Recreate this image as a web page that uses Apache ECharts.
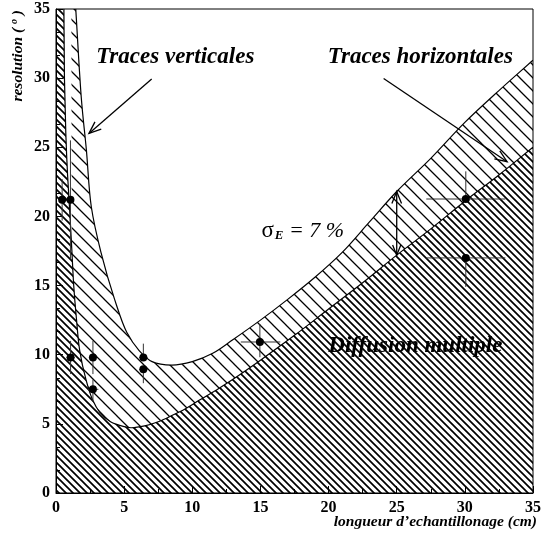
<!DOCTYPE html>
<html>
<head>
<meta charset="utf-8">
<script src="https://cdn.jsdelivr.net/npm/echarts@6/dist/echarts.min.js"></script>
<style>
html, body { margin: 0; padding: 0; background: #fff; }
#chart { width: 544px; height: 535px; }
</style>
</head>
<body>
<div id="chart"></div>
<script>
// Upper edge of the multiple-scattering region (steep part near the axis, then the valley)
const scatterX = [0.58, 0.62, 0.72, 0.85, 1.0, 1.16, 1.3, 1.5, 1.74, 2.2, 2.7, 3.2, 4.0, 5.0, 5.5, 6.5, 7.5, 8.5, 9.5, 10.5, 12.0, 13.4, 15.0, 17.5, 20.0, 22.5, 25.0, 27.5, 30.0, 32.5, 35.0];
const scatterY = [35.0, 30.0, 26.0, 23.0, 20.5, 17.6, 15.0, 12.6, 10.3, 8.2, 6.7, 5.85, 5.15, 4.8, 4.72, 4.85, 5.15, 5.6, 6.1, 6.7, 7.6, 8.5, 9.6, 11.4, 13.3, 15.2, 17.2, 19.1, 21.1, 23.0, 25.0];

// Outer edge of the track-resolution band
const bandX = [1.45, 1.87, 2.23, 2.59, 3.3, 4.3, 5.2, 6.1, 7.05, 8.5, 10.0, 11.5, 13.0, 15.0, 17.0, 19.0, 21.0, 23.0, 25.0, 27.5, 30.0, 32.5, 35.0];
const bandY = [35.0, 28.4, 24.8, 20.7, 17.4, 14.0, 11.6, 10.3, 9.5, 9.25, 9.5, 10.1, 11.1, 12.5, 14.0, 15.6, 17.4, 19.6, 21.8, 24.2, 26.8, 29.1, 31.3];

// Inner edge of the vertical-track band close to the axis
const vertEdgeX = [1.13, 1.14, 1.16];
const vertEdgeY = [35.0, 25.0, 17.6];

// Measurements with their uncertainties
const ptX = [0.45, 1.06, 1.07, 2.71, 2.71, 6.41, 6.41, 14.96, 30.07, 30.07];
const ptY = [21.2, 21.2, 9.8, 9.8, 7.5, 9.8, 8.94, 10.92, 21.26, 17.0];
const errXLo = [0.0, 0.0, 0.3, 0.3, 0.4, 0.3, 0.3, 1.4, 2.9, 2.9];
const errXHi = [0.0, 0.0, 0.3, 0.3, 0.4, 0.3, 0.3, 1.5, 2.9, 2.9];
const errYLo = [1.5, 4.3, 1.2, 1.2, 0.9, 0.0, 1.0, 1.1, 0.0, 2.1];
const errYHi = [1.5, 4.3, 1.2, 1.2, 0.7, 1.0, 0.0, 1.3, 2.0, 0.0];

// Axis ticks
const xTicks = [0, 5, 10, 15, 20, 25, 30, 35];
const yTicks = [0, 5, 10, 15, 20, 25, 30, 35];

const SERIF = '"Liberation Serif", "DejaVu Serif", serif';

function hatchCanvas(w, h, lw) {
  const c = document.createElement('canvas');
  c.width = w; c.height = h;
  const g = c.getContext('2d');
  g.strokeStyle = '#000';
  g.lineWidth = lw;
  g.beginPath();
  const t = 0.3;
  for (let k = -1; k <= 1; k++) {
    g.moveTo(k * w - t * w, -t * h);
    g.lineTo(k * w + w + t * w, h + t * h);
  }
  g.stroke();
  return c;
}
const denseHatch = hatchCanvas(7, 7, 1.7);
const sparseHatch = hatchCanvas(13, 13, 1.3);

function zip(xs, ys) { return xs.map((x, i) => [x, ys[i]]); }

const scatterPts = zip(scatterX, scatterY);
const bandPts = zip(bandX, bandY);
const vertPts = zip(vertEdgeX, vertEdgeY);
const junction = scatterX.indexOf(1.16);

// Smooth curve through pixel points (centripetal Catmull-Rom as cubic Bezier segments)
function curveSegs(pts) {
  let d = '';
  const dist = (a, b) => Math.sqrt(Math.hypot(a[0] - b[0], a[1] - b[1])) || 1e-6;
  for (let i = 0; i < pts.length - 1; i++) {
    const p1 = pts[i], p2 = pts[i + 1];
    const p0 = pts[i - 1] || [2 * p1[0] - p2[0], 2 * p1[1] - p2[1]];
    const p3 = pts[i + 2] || [2 * p2[0] - p1[0], 2 * p2[1] - p1[1]];
    const d1 = dist(p0, p1), d2 = dist(p1, p2), d3 = dist(p2, p3);
    const m1 = [0, 1].map(k => d2 * ((p1[k] - p0[k]) / d1 - (p2[k] - p0[k]) / (d1 + d2)) + (p2[k] - p1[k]));
    const m2 = [0, 1].map(k => d2 * ((p3[k] - p2[k]) / d3 - (p3[k] - p1[k]) / (d2 + d3)) + (p2[k] - p1[k]));
    const c1 = [p1[0] + m1[0] / 3, p1[1] + m1[1] / 3];
    const c2 = [p2[0] - m2[0] / 3, p2[1] - m2[1] / 3];
    d += ' C' + c1[0].toFixed(2) + ' ' + c1[1].toFixed(2) + ' ' + c2[0].toFixed(2) + ' ' + c2[1].toFixed(2) + ' ' + p2[0].toFixed(2) + ' ' + p2[1].toFixed(2);
  }
  return d;
}
function mv(p) { return 'M' + p[0].toFixed(2) + ' ' + p[1].toFixed(2); }
function ln(p) { return ' L' + p[0].toFixed(2) + ' ' + p[1].toFixed(2); }

function arrowHead(tip, from, len, ang) {
  const dx = from[0] - tip[0], dy = from[1] - tip[1];
  const a = Math.atan2(dy, dx);
  return [
    [tip[0] + len * Math.cos(a + ang), tip[1] + len * Math.sin(a + ang)],
    tip,
    [tip[0] + len * Math.cos(a - ang), tip[1] + len * Math.sin(a - ang)]
  ];
}

function arrowElems(p0, p1, both) {
  const st = { stroke: '#000', lineWidth: 1.3, fill: null };
  const els = [
    { type: 'polyline', shape: { points: [p0, p1] }, style: st },
    { type: 'polyline', shape: { points: arrowHead(p1, p0, 13, 0.38) }, style: st }
  ];
  if (both) els.push({ type: 'polyline', shape: { points: arrowHead(p0, p1, 11, 0.38) }, style: st });
  return els;
}

function textEl(p, text, size) {
  return {
    type: 'text',
    style: {
      x: p[0], y: p[1] - 0.33 * size,
      text: text,
      font: 'italic bold ' + size + 'px ' + SERIF,
      fill: '#000',
      align: 'center',
      verticalAlign: 'middle'
    }
  };
}

const chart = echarts.init(document.getElementById('chart'), null, { renderer: 'canvas' });

const axisLabelStyle = { fontFamily: SERIF, fontWeight: 'bold', fontSize: 16, color: '#000' };

chart.setOption({
  animation: false,
  backgroundColor: '#fff',
  grid: { left: 56, right: 7, top: 9, bottom: 42, show: true, borderColor: '#000', borderWidth: 1, backgroundColor: 'transparent' },
  xAxis: {
    type: 'value', min: 0, max: 35, interval: 5,
    axisLine: { show: true, lineStyle: { color: '#000', width: 1 } },
    axisTick: { show: true, inside: true, length: 7, lineStyle: { color: '#000' } },
    minorTick: { show: true, splitNumber: 2, length: 4, lineStyle: { color: '#000' } },
    splitLine: { show: false },
    axisLabel: Object.assign({ margin: 7, formatter: v => xTicks.includes(v) ? String(v) : '' }, axisLabelStyle)
  },
  yAxis: {
    type: 'value', min: 0, max: 35, interval: 5,
    axisLine: { show: true, lineStyle: { color: '#000', width: 1 } },
    axisTick: { show: true, inside: true, length: 7, lineStyle: { color: '#000' } },
    minorTick: { show: true, splitNumber: 3, length: 4, lineStyle: { color: '#000' } },
    splitLine: { show: false },
    axisLabel: Object.assign({ margin: 6, formatter: v => yTicks.includes(v) ? String(v) : '' }, axisLabelStyle)
  },
  graphic: [
    {
      type: 'text', x: 18, y: 10, rotation: Math.PI / 2,
      style: {
        text: '{t|resolution ( }{s|o}{t| )}',
        align: 'right', verticalAlign: 'middle',
        rich: {
          t: { font: 'italic bold 15.5px ' + SERIF, fill: '#000' },
          s: { font: 'italic bold 10px ' + SERIF, fill: '#000', verticalAlign: 'top', padding: [0, 0, 7, 0] }
        }
      }
    },
    {
      type: 'text', x: 537, y: 522,
      style: {
        text: 'longueur d\u2019echantillonage (cm)',
        font: 'italic bold 15.5px ' + SERIF, fill: '#000',
        align: 'right', verticalAlign: 'middle'
      }
    }
  ],
  series: [
    {
      type: 'custom', clip: true, silent: true, z: 1,
      data: [0],
      renderItem: (params, api) => {
        const sc = scatterPts.map(p => api.coord(p));
        const bd = bandPts.map(p => api.coord(p));
        const vt = vertPts.map(p => api.coord(p));
        const densePath = mv(api.coord([0, 0])) + ln(api.coord([0, 35])) + ln(sc[0]) + curveSegs(sc) + ln(api.coord([35, 0])) + ' Z';
        const inner = sc.slice(junction).reverse();
        let sparsePath = mv(bd[0]) + curveSegs(bd) + ln(inner[0]) + curveSegs(inner);
        vt.slice().reverse().forEach(p => { sparsePath += ln(p); });
        sparsePath += ' Z';
        return {
          type: 'group',
          children: [
            { type: 'path', shape: { pathData: densePath }, style: { fill: { image: denseHatch, repeat: 'repeat' }, stroke: null } },
            { type: 'path', shape: { pathData: sparsePath }, style: { fill: { image: sparseHatch, repeat: 'repeat' }, stroke: null } },
            { type: 'path', shape: { pathData: mv(sc[0]) + curveSegs(sc) }, style: { stroke: '#000', lineWidth: 1.2, fill: null } },
            { type: 'path', shape: { pathData: mv(bd[0]) + curveSegs(bd) }, style: { stroke: '#000', lineWidth: 1.2, fill: null } }
          ]
        };
      }
    },
    {
      type: 'custom', clip: true, silent: true, z: 3,
      data: ptX.map((x, i) => [x, ptY[i], errXLo[i], errXHi[i], errYLo[i], errYHi[i]]),
      renderItem: (params, api) => {
        const x = api.value(0), y = api.value(1);
        const c = api.coord([x, y]);
        const l = api.coord([x - api.value(2), y]);
        const r = api.coord([x + api.value(3), y]);
        const b = api.coord([x, y - api.value(4)]);
        const t = api.coord([x, y + api.value(5)]);
        const ls = { stroke: '#333', lineWidth: 1, fill: null };
        return {
          type: 'group',
          children: [
            { type: 'line', shape: { x1: l[0], y1: l[1], x2: r[0], y2: r[1] }, style: ls },
            { type: 'line', shape: { x1: b[0], y1: b[1], x2: t[0], y2: t[1] }, style: ls },
            { type: 'circle', shape: { cx: c[0], cy: c[1], r: 4 }, style: { fill: '#000' } }
          ]
        };
      }
    },
    {
      type: 'custom', clip: false, silent: true, z: 4,
      data: [0],
      renderItem: (params, api) => {
        const children = [];
        children.push(textEl(api.coord([8.75, 31.0]), 'Traces verticales', 23));
        children.push(textEl(api.coord([26.73, 31.0]), 'Traces horizontales', 23));
        children.push(textEl(api.coord([26.37, 10.1]), 'Diffusion multiple', 23));
        arrowElems(api.coord([7.02, 29.93]), api.coord([2.42, 26.0]), false).forEach(e => children.push(e));
        arrowElems(api.coord([24.04, 29.98]), api.coord([33.1, 23.96]), false).forEach(e => children.push(e));
        arrowElems(api.coord([25.0, 17.2]), api.coord([25.0, 21.8]), true).forEach(e => children.push(e));
        const s = api.coord([15.07, 18.44]);
        children.push({
          type: 'text',
          style: {
            x: s[0], y: s[1] - 7,
            text: '{g|\u03c3}{e|E}{t| = 7 %}',
            align: 'left', verticalAlign: 'middle',
            rich: {
              g: { font: '23px ' + SERIF, fill: '#000' },
              e: { font: 'italic bold 13px ' + SERIF, fill: '#000', padding: [10, 0, 0, 1] },
              t: { font: 'italic 22px ' + SERIF, fill: '#000' }
            }
          }
        });
        return { type: 'group', children: children };
      }
    }
  ]
});
</script>
</body>
</html>
